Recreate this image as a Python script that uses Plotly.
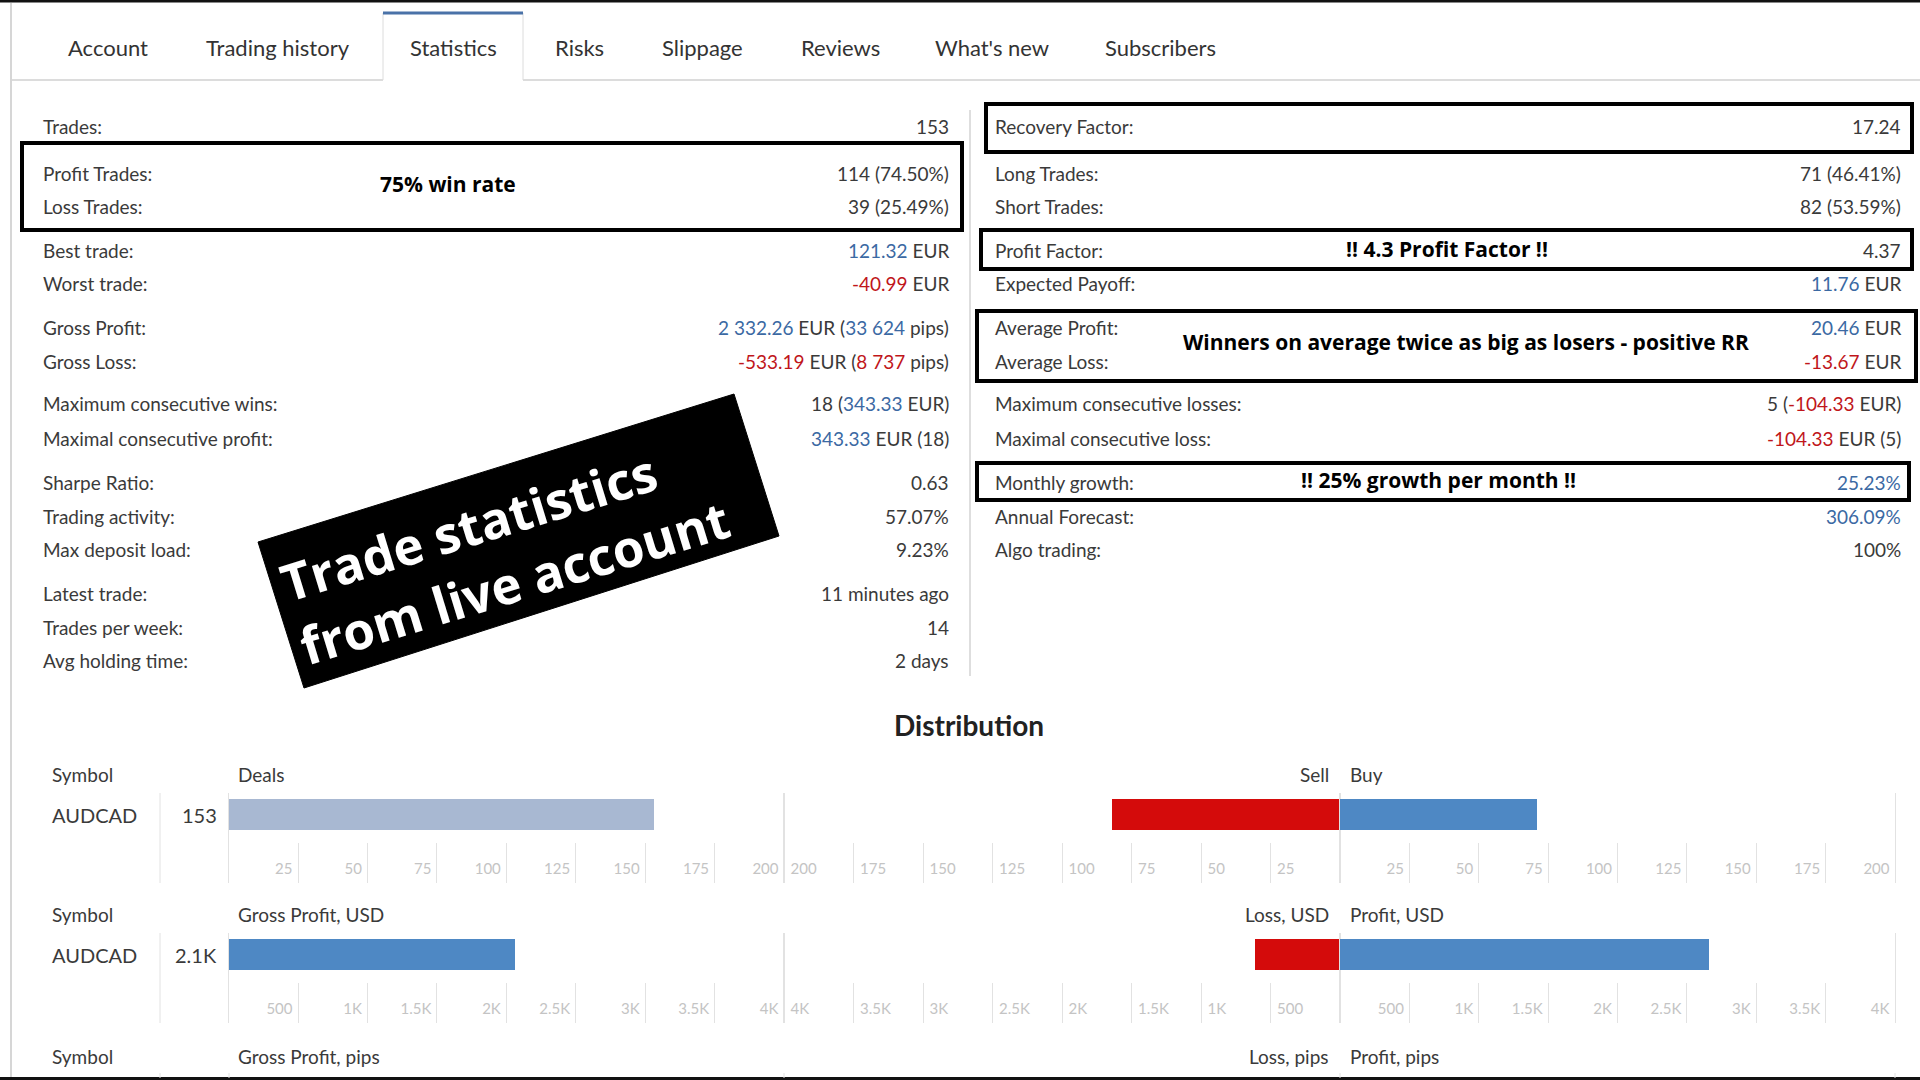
import plotly.graph_objects as go

W, H = 1920, 1080
FONT = "Lato"
BOLD = "Open Sans"
TXT = "#3a3a3a"
BLUE_TXT = "#3b69a3"
RED_TXT = "#c0161b"
GRID = "#e2e2e2"
TICK = "#c4c4c4"

# ---- data ----
tab_labels = ["Account", "Trading history", "Statistics", "Risks", "Slippage",
              "Reviews", "What's new", "Subscribers"]

left_labels = ["Trades:", "Profit Trades:", "Loss Trades:", "Best trade:", "Worst trade:",
               "Gross Profit:", "Gross Loss:", "Maximum consecutive wins:",
               "Maximal consecutive profit:", "Sharpe Ratio:", "Trading activity:",
               "Max deposit load:", "Latest trade:", "Trades per week:", "Avg holding time:"]
left_values = [
    "153",
    "114 (74.50%)",
    "39 (25.49%)",
    [("121.32", "pos"), (" EUR", "")],
    [("-40.99", "neg"), (" EUR", "")],
    [("2 332.26", "pos"), (" EUR (", ""), ("33 624", "pos"), (" pips)", "")],
    [("-533.19", "neg"), (" EUR (", ""), ("8 737", "neg"), (" pips)", "")],
    [("18 (", ""), ("343.33", "pos"), (" EUR)", "")],
    [("343.33", "pos"), (" EUR (18)", "")],
    "0.63",
    "57.07%",
    "9.23%",
    "11 minutes ago",
    "14",
    "2 days",
]

right_labels = ["Recovery Factor:", "Long Trades:", "Short Trades:", "Profit Factor:",
                "Expected Payoff:", "Average Profit:", "Average Loss:",
                "Maximum consecutive losses:", "Maximal consecutive loss:",
                "Monthly growth:", "Annual Forecast:", "Algo trading:"]
right_values = [
    "17.24",
    "71 (46.41%)",
    "82 (53.59%)",
    "4.37",
    [("11.76", "pos"), (" EUR", "")],
    [("20.46", "pos"), (" EUR", "")],
    [("-13.67", "neg"), (" EUR", "")],
    [("5 (", ""), ("-104.33", "neg"), (" EUR)", "")],
    [("-104.33", "neg"), (" EUR (5)", "")],
    [("25.23%", "pos")],
    [("306.09%", "pos")],
    "100%",
]

callouts = ["75% win rate", "!! 4.3 Profit Factor !!",
            "Winners on average twice as big as losers - positive RR",
            "!! 25% growth per month !!"]
banner_text = "Trade statistics<br>from live account"

dist_symbols = ["AUDCAD"]
deals = [153]
sell_deals = [82]
buy_deals = [71]
gross_profit_usd = [2060]
loss_usd = [615]
profit_usd = [2660]

deal_ticks = [25, 50, 75, 100, 125, 150, 175, 200]
usd_ticks = [500, 1000, 1500, 2000, 2500, 3000, 3500, 4000]
usd_tick_labels = ["500", "1K", "1.5K", "2K", "2.5K", "3K", "3.5K", "4K"]

# ---- layout positions (pixels) ----
tab_x = [108, 278, 453, 579, 702, 840, 992, 1160]
left_y = [127, 173, 206, 250, 283, 327, 361, 404, 438, 482, 516, 549, 593, 627, 660]
right_y = [127, 173, 206, 250, 283, 327, 361, 404, 438, 482, 516, 549]
callout_pos = [(448, 184), (1447, 249), (1466, 342), (1438, 480)]
boxes = [(22, 143, 962, 230), (986, 104, 1912, 152), (981, 230, 1912, 269),
         (977, 311, 1916, 381), (977, 463, 1909, 500)]


def px(x):
    return x / W


def py(y):
    return 1 - y / H


def rich(v):
    if isinstance(v, str):
        return v
    out = ""
    for s, kind in v:
        if kind == "pos":
            out += f"<span style='color:{BLUE_TXT}'>{s}</span>"
        elif kind == "neg":
            out += f"<span style='color:{RED_TXT}'>{s}</span>"
        else:
            out += s
    return out


fig = go.Figure()
annotations = []
shapes = []


def text(x, y, t, size=19, color=TXT, anchor="left", family=FONT):
    annotations.append(dict(x=px(x), y=py(y), xref="paper", yref="paper", text=t,
                            showarrow=False, xanchor=anchor, yanchor="middle",
                            font=dict(family=family, size=size, color=color)))


def line(x0, y0, x1, y1, color=GRID, width=1):
    shapes.append(dict(type="line", xref="paper", yref="paper", x0=px(x0), y0=py(y0),
                       x1=px(x1), y1=py(y1), line=dict(color=color, width=width)))


# frame
line(0, 1, W, 1, "#111111", 3)
line(0, 1078.5, W, 1078.5, "#111111", 3)
line(11, 3, 11, 1077, "#d6d6d6", 2)

# tabs
line(12, 80, 383, 80, "#dcdcdc", 2)
line(523, 80, W, 80, "#dcdcdc", 2)
line(383, 13, 383, 80, "#dcdcdc", 1)
line(523, 13, 523, 80, "#dcdcdc", 1)
line(383, 13, 523, 13, "#4a72a8", 3)
for lab, x in zip(tab_labels, tab_x):
    text(x, 48, lab, size=22, color="#333333", anchor="center")

# stats
for lab, v, y in zip(left_labels, left_values, left_y):
    text(41, y, lab)
    text(951, y, rich(v), anchor="right")
for lab, v, y in zip(right_labels, right_values, right_y):
    text(993, y, lab)
    text(1903, y, rich(v), anchor="right")
line(970, 110, 970, 676, "#dedede", 2)

# callout boxes
for x0, y0, x1, y1 in boxes:
    shapes.append(dict(type="rect", xref="paper", yref="paper", x0=px(x0), y0=py(y0),
                       x1=px(x1), y1=py(y1), line=dict(color="#000000", width=4),
                       fillcolor="rgba(0,0,0,0)", layer="above"))
for t, (x, y) in zip(callouts, callout_pos):
    annotations.append(dict(x=px(x), y=py(y), xref="paper", yref="paper",
                            text=f"<b>{t}</b>", showarrow=False, xanchor="center",
                            yanchor="middle", font=dict(family=BOLD, size=21, color="#000000")))

# banner
corners = [(258, 542), (734, 394), (779, 536), (304, 688)]
path = "M " + " L ".join(f"{px(a)},{py(b)}" for a, b in corners) + " Z"
shapes.append(dict(type="path", xref="paper", yref="paper", path=path,
                   fillcolor="#000000", line=dict(color="#000000", width=1), layer="above"))
annotations.append(dict(x=px(504), y=py(550), xref="paper", yref="paper",
                        text=f"<b>{banner_text}</b>", showarrow=False, textangle=-17,
                        align="left", xanchor="center", yanchor="middle",
                        font=dict(family=BOLD, size=51, color="#ffffff")))

# distribution
text(969, 725, "<b>Distribution</b>", size=28, color="#222222", anchor="center")
row_tops = [793, 933]
row_headers = [("Deals", "Sell", "Buy"), ("Gross Profit, USD", "Loss, USD", "Profit, USD")]
row_totals = [f"{deals[0]}", f"{gross_profit_usd[0] / 1000:.1f}K"]
for top, (h1, h2, h3), tot in zip(row_tops, row_headers, row_totals):
    hy = top - 19
    text(50, hy, "Symbol")
    text(236, hy, h1)
    text(1331, hy, h2, anchor="right")
    text(1348, hy, h3)
    text(50, top + 22, dist_symbols[0], size=20)
    text(219, top + 22, tot, size=20, anchor="right")
    line(160, top, 160, top + 90)
# third row (cut off)
text(50, 1056, "Symbol")
text(236, 1056, "Gross Profit, pips")
text(1331, 1056, "Loss, pips", anchor="right")
text(1348, 1056, "Profit, pips")
for x in [160, 229, 784, 1340, 1895]:
    line(x, 1073, x, 1078)

panel_x = [(228.6, 784), (784, 1340), (1340, 1895)]
# reversed axes: a negative shift moves labels to the right on screen
panels = [
    (deals, [0, 200], deal_ticks, [str(t) for t in deal_ticks], "#a8b8d2", "inside left", -5),
    (sell_deals, [200, 0], deal_ticks, [str(t) for t in deal_ticks], "#d40b0b", "inside right", -6),
    (buy_deals, [0, 200], deal_ticks, [str(t) for t in deal_ticks], "#4e88c4", "inside left", -5),
    (gross_profit_usd, [0, 4000], usd_ticks, usd_tick_labels, "#4e88c4", "inside left", -5),
    (loss_usd, [4000, 0], usd_ticks, usd_tick_labels, "#d40b0b", "inside right", -6),
    (profit_usd, [0, 4000], usd_ticks, usd_tick_labels, "#4e88c4", "inside left", -5),
]
yr_top = 0.5 + 6 / 31
yr = [yr_top - 90 / 31, yr_top]
layout_axes = {}
for i, (vals, rng, tv, tt, col, tpos, shift) in enumerate(panels):
    n = i + 2
    top = row_tops[i // 3]
    x0, x1 = panel_x[i % 3]
    fig.add_trace(go.Bar(x=vals, y=dist_symbols, orientation="h", width=1,
                         marker=dict(color=col, line=dict(width=0)),
                         xaxis=f"x{n}", yaxis=f"y{n}", showlegend=False, hoverinfo="x"))
    layout_axes[f"xaxis{n}"] = dict(
        domain=[px(x0), px(x1)], range=rng, anchor=f"y{n}", showgrid=False,
        zeroline=False, showline=False, ticks="inside", ticklen=40, tickwidth=1,
        tickcolor=GRID, tickvals=tv, ticktext=tt, ticklabelposition=tpos,
        ticklabelshift=shift,
        tickfont=dict(family=FONT, size=15, color=TICK), fixedrange=True)
    layout_axes[f"yaxis{n}"] = dict(
        domain=[py(top + 90), py(top)], range=yr, anchor=f"x{n}", showgrid=False,
        zeroline=False, showticklabels=False, ticks="", showline=True, mirror=True,
        linecolor=GRID, linewidth=1, fixedrange=True)

fig.update_layout(
    width=W, height=H, margin=dict(l=0, r=0, t=0, b=0),
    paper_bgcolor="white", plot_bgcolor="rgba(0,0,0,0)",
    shapes=shapes, annotations=annotations, showlegend=False,
    bargap=0, xaxis=dict(visible=False), yaxis=dict(visible=False),
    **layout_axes)

fig.write_html("out.html", config={"displayModeBar": False},
               post_script="document.body.style.margin='0';")
